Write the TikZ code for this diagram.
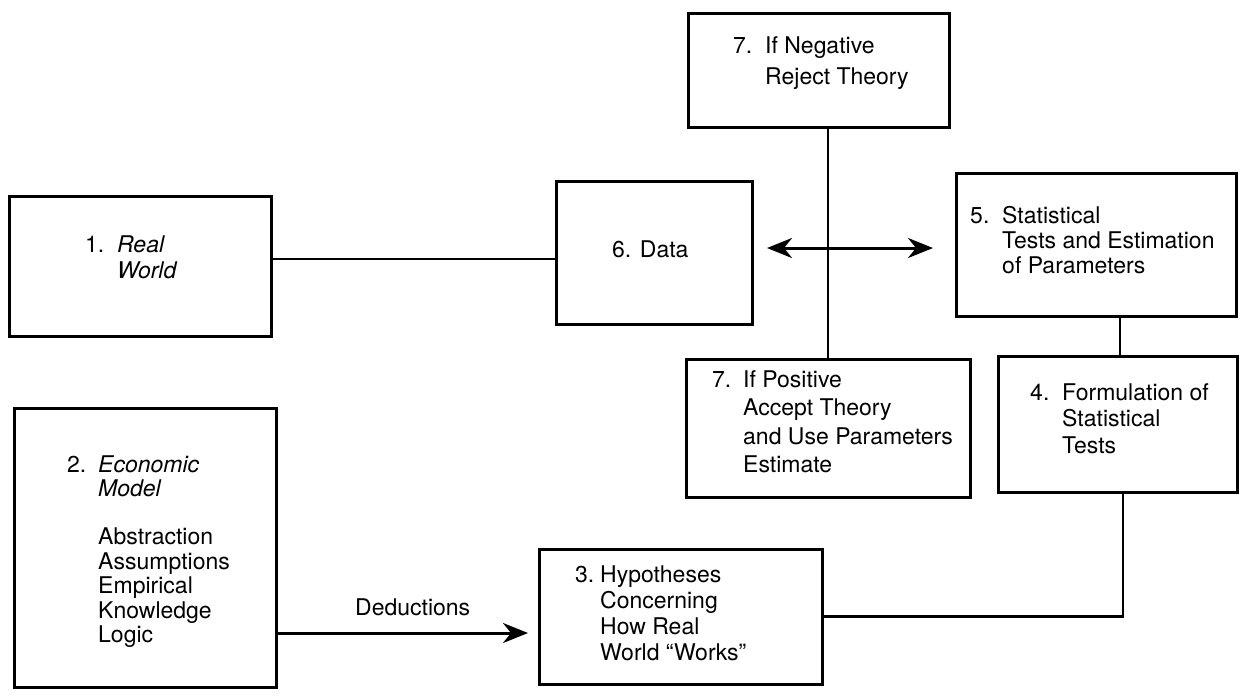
\documentclass[tikz,border=0pt]{standalone}
\usepackage{fontspec}
\setmainfont{TeX Gyre Heros}
\usetikzlibrary{arrows.meta}
% number column of a hanging entry
\newcommand\itemno[2][32pt]{\makebox[#1][l]{#2}}
\begin{document}
\begin{tikzpicture}[x=1pt,y=-1pt,
  box/.style={draw, line width=3pt, rectangle, inner sep=0pt},
  link/.style={line width=2.8pt},
  tip/.tip={Stealth[length=25pt,width=20pt,inset=8pt]},
  head/.style={line width=3pt, -tip},
  dhead/.style={line width=3pt, tip-tip},
  lbl/.style={inner sep=0pt, anchor=base west, font=\fontsize{23}{#1}\selectfont},
  lbl/.default=26]
\useasboundingbox (0,0) rectangle (1247,697);

% boxes
\node[box, minimum width=262pt, minimum height=140pt] (real)  at (140,266)    {};
\node[box, minimum width=196pt, minimum height=143pt] (data)  at (654,252.5)  {};
\node[box, minimum width=261pt, minimum height=114pt] (neg)   at (818.5,70)   {};
\node[box, minimum width=280pt, minimum height=143pt] (stats) at (1096,244.5) {};
\node[box, minimum width=239pt, minimum height=136pt] (form)  at (1117.5,424) {};
\node[box, minimum width=284pt, minimum height=138pt] (pos)   at (828,428)    {};
\node[box, minimum width=262pt, minimum height=279pt] (model) at (145,547.5)  {};
\node[box, minimum width=283pt, minimum height=135pt] (hyp)   at (680.5,616.5){};

% box texts
\node[lbl] (t1) at (85,252) {\begin{tabular}[t]{@{}l@{}l@{}}\itemno{1.}&\textit{Real}\\&\textit{World}\end{tabular}};
\node[lbl] (t6) at (612,257) {6. Data};
\node[lbl=31] (t7a) at (733,53) {\begin{tabular}[t]{@{}l@{}l@{}}\itemno{7.}&If Negative\\&Reject Theory\end{tabular}};
\node[lbl=25] (t5) at (970,223) {\begin{tabular}[t]{@{}l@{}l@{}}\itemno{5.}&Statistical\\&Tests and Estimation\\&of Parameters\end{tabular}};
\node[lbl=26.5] (t4) at (1030,400) {\begin{tabular}[t]{@{}l@{}l@{}}\itemno{4.}&Formulation of\\&Statistical\\&Tests\end{tabular}};
\node[lbl=28.5] (t7b) at (712,387) {\begin{tabular}[t]{@{}l@{}l@{}}\itemno[31pt]{7.}&If Positive\\&Accept Theory\\&and Use Parameters\\&Estimate\end{tabular}};
\node[lbl=24.5] (t2) at (67,472) {\begin{tabular}[t]{@{}l@{}l@{}}\itemno[31pt]{2.}&\textit{Economic}\\&\textit{Model}\\[23.5pt]&Abstraction\\&Assumptions\\&Empirical\\&Knowledge\\&Logic\end{tabular}};
\node[lbl=26] (t3) at (575,582) {\begin{tabular}[t]{@{}l@{}l@{}}\itemno[25pt]{3.}&Hypotheses\\&Concerning\\&How Real\\&World ``Works''\end{tabular}};

% connector levels
\coordinate (ly) at (0,259);
\coordinate (ay) at (0,248);
\coordinate (dy) at (0,633);
\coordinate (c5) at (1120,0);
\coordinate (c4) at (1123,0);

% connectors
\draw[link] (real.east |- ly) -- (data.west |- ly);
\draw[dhead, shorten <=13.5pt, shorten >=21.5pt] (data.east |- ay) -- (stats.west |- ay);
\draw[link] (pos.north |- neg.south) -- (pos.north);
\draw[link] (c5 |- stats.south) -- (c5 |- form.north);
\draw[link] (hyp.east) -| (c4 |- form.south);
\draw[head, shorten >=9.5pt] (model.east |- dy) -- (hyp.west |- dy)
  node[pos=0.52, anchor=base, yshift=18pt, font=\fontsize{23}{26}\selectfont, inner sep=0pt] (ded) {Deductions};
\end{tikzpicture}
\end{document}
